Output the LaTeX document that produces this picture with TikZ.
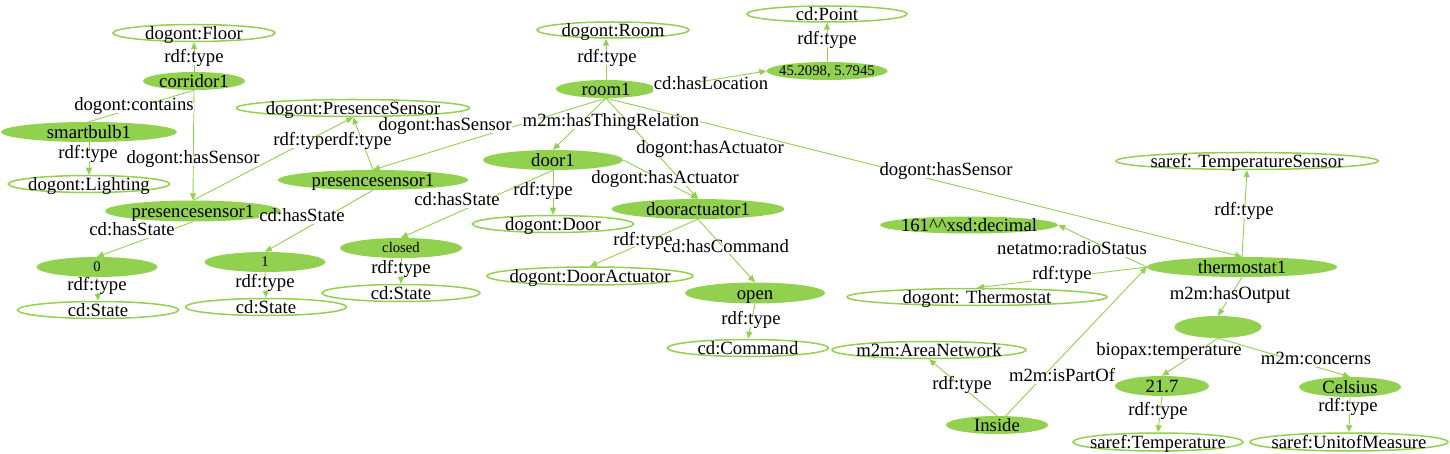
\documentclass[tikz,border=0pt]{standalone}
\usepackage{fontspec}
\setmainfont{Liberation Serif}
\usetikzlibrary{shapes.geometric,arrows.meta}
\definecolor{gr}{RGB}{146,208,80}
\newcommand\ct[1]{\makebox[0pt]{\raisebox{-0.33em}[0pt][0pt]{#1}}}
\tikzset{
  cls/.style={ellipse, draw=gr, line width=1.5pt, fill=white, inner sep=0pt},
  ins/.style={ellipse, fill=gr, inner sep=0pt},
  sz/.style 2 args={minimum width=#1pt, minimum height=#2pt},
  sm/.style={font=\fontsize{14.7}{17}\selectfont},
  lab/.style={fill=white, inner sep=0.5pt, text height=0.66em, text depth=0.2em},
  rel/.style={draw=gr, line width=0.9pt, -{Triangle[length=7pt,width=6pt]}},
  relplain/.style={draw=gr, line width=0.9pt},
}
\begin{document}
\begin{tikzpicture}[x=1pt, y=-1pt, font=\fontsize{18.7}{22}\selectfont]
\useasboundingbox (0,0) rectangle (1450,454);
% ---------- nodes ----------
\node[ins,sz={102}{18}] (corr) at (194,81) {\ct{corridor1}};
\node[cls,sz={162}{17}] (floor) at (194,33) {\ct{dogont:Floor}};
\node[ins,sz={176}{20}] (bulb) at (89,132) {\ct{smartbulb1}};
\node[cls,sz={161}{17}] (light) at (89,184) {\ct{dogont:Lighting}};
\node[cls,sz={233}{17}] (psclass) at (353,108) {\ct{dogont:PresenceSensor}};
\node[ins,sz={190}{20}] (psR) at (373,180) {\ct{presencesensor1}};
\node[ins,sz={176}{21}] (psL) at (193,211) {\ct{presencesensor1}};
\node[ins,sz={121}{20},sm] (s0) at (97,267) {\ct{0}};
\node[cls,sz={161}{17}] (st1) at (98,310) {\ct{cd:State}};
\node[ins,sz={121}{20},sm] (s1) at (265,262) {\ct{1}};
\node[cls,sz={161}{17}] (st2) at (266,307) {\ct{cd:State}};
\node[ins,sz={122}{20},sm] (closed) at (401,248) {\ct{closed}};
\node[cls,sz={158}{17}] (st3) at (401,293) {\ct{cd:State}};
\node[ins,sz={100}{18}] (room1) at (606,89) {\ct{room1}};
\node[cls,sz={152}{16}] (room) at (613,30) {\ct{dogont:Room}};
\node[ins,sz={121}{18},sm] (loc) at (827,71) {\ct{45.2098, 5.7945}};
\node[cls,sz={160}{16}] (point) at (827,14) {\ct{cd:Point}};
\node[ins,sz={140}{20}] (door1) at (553,160) {\ct{door1}};
\node[cls,sz={161}{17}] (door) at (553,224) {\ct{dogont:Door}};
\node[ins,sz={173}{20}] (dact1) at (698,209) {\ct{dooractuator1}};
\node[cls,sz={206}{18}] (dact) at (590,276) {\ct{dogont:DoorActuator}};
\node[ins,sz={140}{21}] (open) at (755,293) {\ct{open}};
\node[cls,sz={161}{17}] (cmd) at (748,348) {\ct{cd:Command}};
\node[cls,sz={194}{17}] (area) at (929,350) {\ct{m2m:AreaNetwork}};
\node[ins,sz={178}{17}] (dec) at (969,225) {\ct{161\textasciicircum\textasciicircum xsd:decimal}};
\node[ins,sz={190}{20}] (thermo1) at (1242,267) {\ct{thermostat1}};
\node[cls,sz={262}{17}] (tsens) at (1247,161) {\ct{saref: TemperatureSensor}};
\node[cls,sz={260}{17}] (thermo) at (977,297) {\ct{dogont: Thermostat}};
\node[ins,sz={87}{22}] (bn) at (1218,327) {};
\node[ins,sz={102}{18}] (inside) at (997,425) {\ct{Inside}};
\node[ins,sz={94}{20}] (t217) at (1162,386) {\ct{21.7}};
\node[cls,sz={170}{18}] (stemp) at (1158,442) {\ct{saref:Temperature}};
\node[ins,sz={102}{20}] (cel) at (1350,387) {\ct{Celsius}};
\node[cls,sz={198}{18}] (unit) at (1349,442) {\ct{saref:UnitofMeasure}};
% ---------- connectors ----------
\draw[rel] (corr.north) -- (floor.south);
\draw[relplain] (corr.south) -- (bulb.north);
\draw[rel] (corr.south) -- (psL.north);
\draw[rel] (bulb.south) -- (light.north);
\draw[rel] (psL.north) -- (psclass.south);
\draw[rel] (psR.north) -- (psclass.south);
\draw[rel] (room1.south) -- (psR.north);
\draw[rel] (psL.south) -- (s0.north);
\draw[rel] (psR.south) -- (s1.north);
\draw[rel] (door1.south) -- (closed.north);
\draw[rel] (s0.south) -- (st1.north);
\draw[rel] (s1.south) -- (st2.north);
\draw[rel] (closed.south) -- (st3.north);
\draw[rel] (room1.north) -- (room1.north |- room.south);
\draw[rel] (room1.east) -- (loc.west);
\draw[rel] (loc.north) -- (point.south);
\draw[rel] (room1.south) -- (door1.north);
\draw[rel] (room1.south) -- (dact1.north);
\draw[rel] (door1.east) -- (dact1.north);
\draw[rel] (room1.south) -- (thermo1.north);
\draw[rel] (door1.south) -- (door.north);
\draw[rel] (dact1.south) -- (dact.north);
\draw[rel] (dact1.south) -- (open.north);
\draw[rel] (open.south) -- (cmd.north);
\draw[rel] (thermo1.north) -- (tsens.south);
\draw[rel] (thermo1.west) -- (dec.east);
\draw[rel] (thermo1.west) -- (thermo.north);
\draw[rel] (inside) -- (thermo1.west);
\draw[rel] (thermo1.south) -- (bn.north);
\draw[rel] (bn.south) -- (t217.north);
\draw[rel] (bn.south) -- (cel.north);
\draw[rel] (inside.north) -- (area.south);
\draw[rel] (t217.south) -- (stemp.north);
\draw[rel] (cel.south) -- (unit.north);
% ---------- connector labels ----------
\node[lab] (l1) at (194,60) {rdf:type};
\node[lab] (l2) at (134,108) {dogont:contains};
\node[lab] (l3) at (193,161) {dogont:hasSensor};
\node[lab] (l4) at (88,156) {rdf:type};
\node[lab] (l5) at (303,143) {rdf:type};
\node[lab] (l6) at (362,143) {rdf:type};
\node[lab] (l7) at (445,128) {dogont:hasSensor};
\node[lab] (l8) at (132,233) {cd:hasState};
\node[lab] (l9) at (302,219) {cd:hasState};
\node[lab] (l10) at (457,203) {cd:hasState};
\node[lab] (l11) at (97,288) {rdf:type};
\node[lab] (l12) at (265,285) {rdf:type};
\node[lab] (l13) at (401,271) {rdf:type};
\node[lab] (l14) at (607,60) {rdf:type};
\node[lab] (l15) at (711,87) {cd:hasLocation};
\node[lab] (l16) at (827,42) {rdf:type};
\node[lab] (l17) at (611,124) {m2m:hasThingRelation};
\node[lab] (l18) at (710,151) {dogont:hasActuator};
\node[lab] (l19) at (665,181) {dogont:hasActuator};
\node[lab] (l20) at (946,173) {dogont:hasSensor};
\node[lab] (l21) at (543,193) {rdf:type};
\node[lab,inner sep=0pt] (l23) at (726,250) {cd:hasCommand};
\node[lab,inner sep=0pt] (l22) at (643,243) {rdf:type};
\node[lab] (l24) at (751,322) {rdf:type};
\node[lab] (l25) at (1244,213) {rdf:type};
\node[lab] (l26) at (1072,252) {netatmo:radioStatus};
\node[lab] (l27) at (1062,277) {rdf:type};
\node[lab] (l28) at (1062,379) {m2m:isPartOf};
\node[lab] (l29) at (1230,297) {m2m:hasOutput};
\node[lab] (l30) at (1169,353) {biopax:temperature};
\node[lab] (l31) at (1316,362) {m2m:concerns};
\node[lab] (l32) at (962,387) {rdf:type};
\node[lab] (l33) at (1158,413) {rdf:type};
\node[lab] (l34) at (1348,409) {rdf:type};
\end{tikzpicture}
\end{document}
